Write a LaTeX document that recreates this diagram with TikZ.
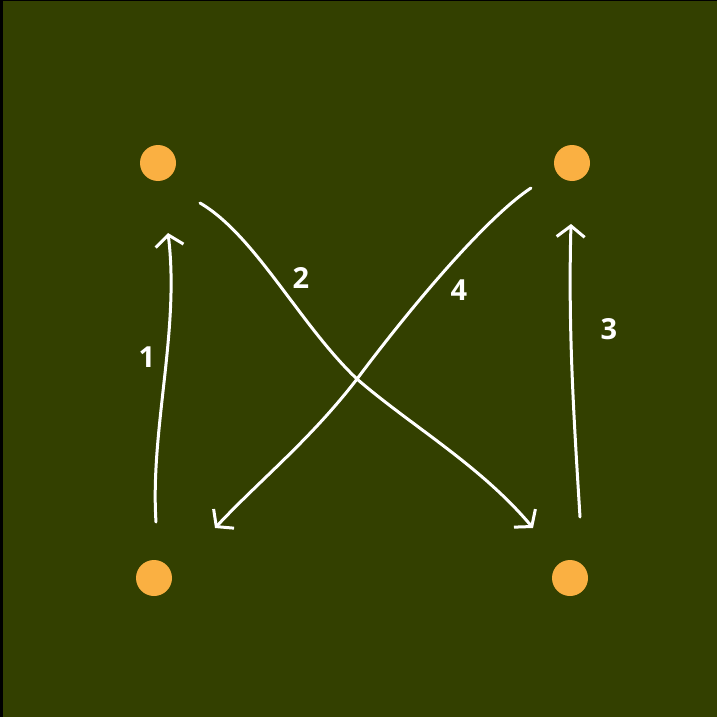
\documentclass[tikz,border=0pt]{standalone}
\usepackage{fontspec}
\setmainfont{Open Sans}
\usetikzlibrary{arrows.meta}
\definecolor{FieldGreen}{RGB}{51,64,0}
\definecolor{ConeOrange}{RGB}{250,176,66}
\tikzset{
  cone/.style={circle,fill=ConeOrange,minimum size=36pt,inner sep=0pt},
  runarrow/.style={-{Straight Barb[length=11pt,width=28pt,line width=3pt]},
    line width=3pt,draw=white,line cap=round,line join=round},
  runlabel/.style={text=white,font=\fontsize{29}{31}\selectfont\bfseries},
}
\begin{document}
\begin{tikzpicture}[x=1pt,y=-1pt]
  % field
  \fill[black] (0,0) rectangle (717,717);
  \fill[FieldGreen] (3,1) rectangle (717,717);
  \useasboundingbox (0,0) rectangle (717,717);
  % cones
  \node[cone] (tl) at (158,163) {};
  \node[cone] (tr) at (572,163) {};
  \node[cone] (bl) at (154,578) {};
  \node[cone] (br) at (570,578) {};
  % arrow ends
  \coordinate (s1) at (156,522);
  \coordinate (e1) at (168,233);
  \coordinate (s2) at (200,203);
  \coordinate (cross) at (357,379);
  \coordinate (e2) at (533,528);
  \coordinate (s3) at (580,517);
  \coordinate (e3) at (571,224);
  \coordinate (s4) at (531,188);
  \coordinate (e4) at (215,528);
  % runs
  \draw[runarrow] (s1) .. controls (150,430) and (180,330) .. (e1);
  \draw[runarrow] (s2) .. controls (255,235) and (300,325) .. (cross)
    .. controls (410,425) and (480,465) .. (e2);
  \draw[runarrow] (s3) .. controls (574,420) and (568,330) .. (e3);
  \draw[runarrow] (s4) .. controls (490,215) and (420,295) .. (cross)
    .. controls (310,440) and (260,480) .. (e4);
  % labels
  \node[runlabel] (l1) at (147,357) {1};
  \node[runlabel] (l2) at (301,278) {2};
  \node[runlabel] (l3) at (609,329) {3};
  \node[runlabel] (l4) at (459,290) {4};
\end{tikzpicture}
\end{document}
